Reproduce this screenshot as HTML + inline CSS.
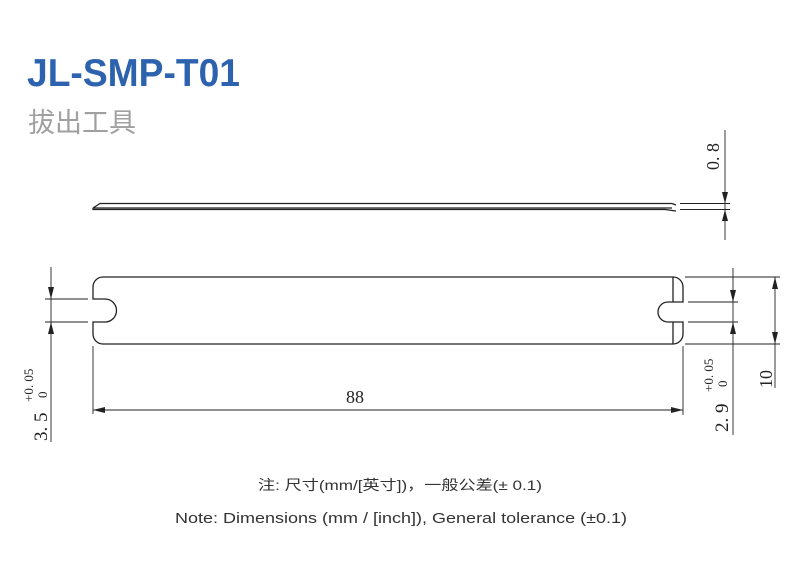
<!DOCTYPE html>
<html><head><meta charset="utf-8"><style>
html,body{margin:0;padding:0;background:#fff;width:800px;height:565px;overflow:hidden}
</style></head><body>
<svg width="800" height="565" xmlns="http://www.w3.org/2000/svg">
<text x="27" y="86" font-family="Liberation Sans, sans-serif" font-weight="bold" font-size="39" fill="#2d62ae" textLength="213" lengthAdjust="spacingAndGlyphs">JL-SMP-T01</text>
<text x="28" y="132" font-family="Liberation Sans, Noto Sans CJK SC, sans-serif" font-size="27" fill="#a0a0a0">拔出工具</text>

<g fill="none" stroke="#222" stroke-width="1.3">
<path d="M93,208 L100,203.5 L672,203.5 L676,205 M93,208 L93,209.5 L665,209.5 L676,211 M93,208 L672,208"/>
<path d="M103,277 L673,277 A10,10 0 0 1 683,287 L683,302 L668,302 A10,10 0 0 0 668,322 L683,322 L683,334 A10,10 0 0 1 673,344 L103,344 A10,10 0 0 1 93,334 L93,322 L105,322 A11.5,11.5 0 0 0 105,299 L93,299 L93,287 A10,10 0 0 1 103,277 Z"/>
<path d="M673,277 L673,302 M673,322 L673,344"/>
</g>
<g stroke="#222" stroke-width="0.9" fill="none">
<line x1="51" y1="267" x2="51" y2="442"/>
<line x1="45" y1="299" x2="88" y2="299"/>
<line x1="45" y1="322" x2="88" y2="322"/>
<line x1="93" y1="346" x2="93" y2="414"/>
<line x1="683" y1="346" x2="683" y2="415"/>
<line x1="93" y1="410" x2="683" y2="410"/>
<line x1="725" y1="130" x2="725" y2="240"/>
<line x1="680" y1="203.5" x2="730" y2="203.5"/>
<line x1="680" y1="209.5" x2="730" y2="209.5"/>
<line x1="685" y1="277" x2="780" y2="277"/>
<line x1="685" y1="344" x2="780" y2="344"/>
<line x1="688" y1="302" x2="738" y2="302"/>
<line x1="688" y1="322" x2="738" y2="322"/>
<line x1="733" y1="268" x2="733" y2="435"/>
<line x1="775" y1="277" x2="775" y2="388"/>
</g>
<g fill="#222">
<polygon points="51,299 48,287 54,287"/>
<polygon points="51,322 48,334 54,334"/>
<polygon points="93,410 105,407 105,413"/>
<polygon points="683,410 671,407 671,413"/>
<polygon points="725,203.5 722,192 728,192"/>
<polygon points="725,209.5 722,221 728,221"/>
<polygon points="733,302 730,290 736,290"/>
<polygon points="733,322 730,334 736,334"/>
<polygon points="775,277 772,289 778,289"/>
<polygon points="775,344 772,332 778,332"/>
</g>
<g font-family="Liberation Serif, serif" fill="#222">
<text x="355" y="403" font-size="18" text-anchor="middle">88</text>
<text transform="translate(719,170) rotate(-90)" font-size="18">0. 8</text>
<text transform="translate(772,388) rotate(-90)" font-size="18">10</text>
<text transform="translate(47,441) rotate(-90)" font-size="19">3. 5</text>
<text transform="translate(33,402) rotate(-90)" font-size="13">+0. 05</text>
<text transform="translate(47,398) rotate(-90)" font-size="13">0</text>
<text transform="translate(728,432) rotate(-90)" font-size="19">2. 9</text>
<text transform="translate(713,392) rotate(-90)" font-size="13">+0. 05</text>
<text transform="translate(727,387) rotate(-90)" font-size="13">0</text>
</g>
<g font-family="Liberation Sans, Noto Sans CJK SC, sans-serif" fill="#333">
<text x="258" y="490" font-size="14" textLength="284" lengthAdjust="spacingAndGlyphs">注: 尺寸(mm/[英寸])，一般公差(± 0.1)</text>
<text x="175" y="523" font-size="15" textLength="452" lengthAdjust="spacingAndGlyphs">Note: Dimensions (mm / [inch]), General tolerance (±0.1)</text>
</g>
</svg>
</body></html>
